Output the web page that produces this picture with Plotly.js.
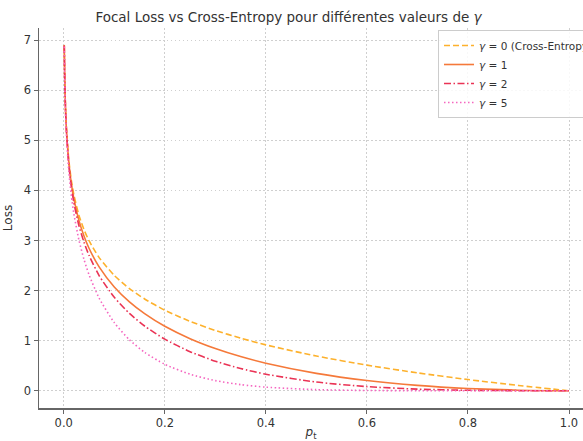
<!DOCTYPE html>
<html>
<head>
<meta charset="utf-8">
<script src="https://cdn.plot.ly/plotly-3.0.1.min.js"></script>
<style>
html, body { margin: 0; padding: 0; overflow: hidden; background: #fff; }
#chart { width: 583px; height: 441px; }
</style>
</head>
<body>
<div id="chart"></div>
<script>
// probability of the true class (p_t)
const pt = [0.001, 0.002, 0.003, 0.005, 0.01, 0.015, 0.02, 0.03, 0.04, 0.05, 0.07, 0.1, 0.13, 0.16, 0.2, 0.25, 0.3, 0.35, 0.4, 0.5, 0.6, 0.7, 0.8, 0.9, 1.0];
// loss values read for each gamma
const lossG0 = [6.908, 6.215, 5.809, 5.298, 4.605, 4.200, 3.912, 3.507, 3.219, 2.996, 2.659, 2.303, 2.040, 1.833, 1.609, 1.386, 1.204, 1.050, 0.916, 0.693, 0.511, 0.357, 0.223, 0.105, 0.0];
const lossG1 = [6.901, 6.203, 5.792, 5.272, 4.559, 4.137, 3.834, 3.402, 3.090, 2.846, 2.473, 2.072, 1.775, 1.540, 1.287, 1.040, 0.843, 0.682, 0.550, 0.347, 0.204, 0.107, 0.045, 0.011, 0.0];
const lossG2 = [6.894, 6.190, 5.774, 5.245, 4.513, 4.075, 3.757, 3.300, 2.966, 2.704, 2.300, 1.865, 1.544, 1.293, 1.030, 0.780, 0.590, 0.444, 0.330, 0.173, 0.082, 0.032, 0.009, 0.001, 0.0];
const lossG5 = [6.874, 6.153, 5.722, 5.167, 4.379, 3.894, 3.536, 3.012, 2.625, 2.318, 1.850, 1.360, 1.017, 0.767, 0.527, 0.329, 0.202, 0.122, 0.071, 0.022, 0.005, 0.001, 0.000, 0.0, 0.0];
const seriesNames = ['<i>γ</i> = 0 (Cross-Entropy)', '<i>γ</i> = 1', '<i>γ</i> = 2', '<i>γ</i> = 5'];
const xTicks = [0.0, 0.2, 0.4, 0.6, 0.8, 1.0];
const xTickText = ['0.0', '0.2', '0.4', '0.6', '0.8', '1.0'];
const yTicks = [0, 1, 2, 3, 4, 5, 6, 7];

const styles = [
  {color: '#fdb12c', dash: '6px,3px', width: 1.6},
  {color: '#f5793a', dash: 'solid', width: 1.6},
  {color: '#ea3355', dash: '7px,2.5px,1.5px,2.5px', width: 1.6},
  {color: '#f566c0', dash: '1.5px,2.5px', width: 1.6}
];
const ys = [lossG0, lossG1, lossG2, lossG5];
const traces = ys.map((y, i) => ({
  x: pt, y: y, type: 'scatter', mode: 'lines', name: seriesNames[i],
  line: {color: styles[i].color, dash: styles[i].dash, width: styles[i].width, shape: 'spline', smoothing: 0.6}
}));

const font = {family: 'DejaVu Sans, sans-serif', color: '#333', size: 12};
const layout = {
  width: 583, height: 441,
  margin: {l: 39, r: 0, t: 28, b: 33, pad: 0, autoexpand: false},
  paper_bgcolor: '#fff', plot_bgcolor: '#fff',
  font: font,
  showlegend: true,
  title: {text: 'Focal Loss vs Cross-Entropy pour différentes valeurs de <i>γ</i>',
    font: {family: 'DejaVu Sans, sans-serif', size: 13.5, color: '#333'},
    xref: 'container', x: 288.5 / 583, xanchor: 'center', yref: 'container', y: 1 - 17 / 441, yanchor: 'middle'},
  xaxis: {
    range: [-0.049, 1.0277], tickvals: xTicks, ticktext: xTickText,
    showgrid: true, gridcolor: '#cfcfcf', griddash: '1.5px,2.5px', gridwidth: 1,
    zeroline: false, showline: true, linecolor: '#666', linewidth: 1.5, mirror: false,
    ticks: 'outside', ticklen: 4, tickcolor: '#666', tickwidth: 1,
    tickfont: {family: 'DejaVu Sans, sans-serif', size: 11.5, color: '#333'},
    title: {text: '<i>p</i><sub>t</sub>', font: {family: 'DejaVu Sans, sans-serif', size: 12, color: '#333'}, standoff: 4}
  },
  yaxis: {
    range: [-0.345, 7.245], tickvals: yTicks,
    showgrid: true, gridcolor: '#cfcfcf', griddash: '1.5px,2.5px', gridwidth: 1,
    zeroline: false, showline: true, linecolor: '#666', linewidth: 1.5, mirror: false,
    ticks: 'outside', ticklen: 4, tickcolor: '#666', tickwidth: 1,
    tickfont: {family: 'DejaVu Sans, sans-serif', size: 11.5, color: '#333'},
    title: {text: 'Loss', font: {family: 'DejaVu Sans, sans-serif', size: 12, color: '#333'}, standoff: 8}
  },
  legend: {
    x: (438 - 39) / 544, y: 1 - 2 / 380, xanchor: 'left', yanchor: 'top',
    bgcolor: 'rgba(255,255,255,0.85)', bordercolor: '#cccccc', borderwidth: 1,
    font: {family: 'DejaVu Sans, sans-serif', size: 10.5, color: '#333'},
    tracegroupgap: 0, itemwidth: 30
  }
};
Plotly.newPlot('chart', traces, layout, {displayModeBar: false, staticPlot: true});
</script>
</body>
</html>
